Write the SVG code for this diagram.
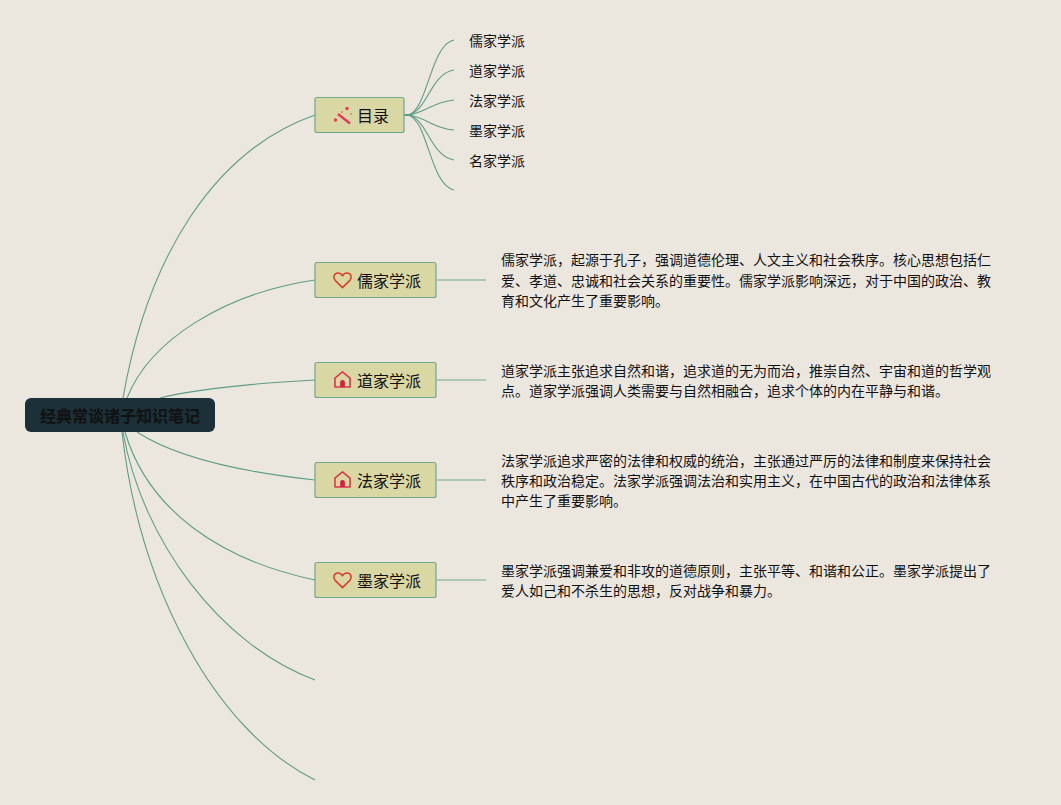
<svg xmlns="http://www.w3.org/2000/svg" width="1061" height="805" viewBox="0 0 1061 805">
<defs>
<symbol id="heart" viewBox="0 0 20 18" overflow="visible"><path d="M10 16.5 L2.2 8.8 C-0.6 5.6 1.2 1 5.2 1 C7.4 1 9 2.2 10 4 C11 2.2 12.6 1 14.8 1 C18.8 1 20.6 5.6 17.8 8.8 Z" fill="none" stroke="#d8402f" stroke-width="1.7" stroke-linejoin="round"/></symbol>
<symbol id="house" viewBox="0 0 18 18" overflow="visible"><path d="M1 7.5 L9 1 L17 7.5 V17 H1 Z" fill="none" stroke="#d9374f" stroke-width="1.7" stroke-linejoin="round"/><path d="M6.5 17 V12 Q6.5 9.6 9 9.6 Q11.5 9.6 11.5 12 V17 Z" fill="#d6213f"/></symbol>
</defs>
<style>
text{font-family:"Noto Sans CJK SC","Noto Sans",sans-serif;fill:#111}
.c{fill:none;stroke:#5f9c85;stroke-width:1.1}
.t{fill:none;stroke:#98bfa9;stroke-width:1.5}
.b{fill:#d9d7a4;stroke:#6ea88c;stroke-width:1.2}
.n{font-size:16px}
.s{font-size:14px}
.d{font-size:14px}
</style>
<rect width="1061" height="805" fill="#ebe7df"/>
<g id="connectors">
<path class="c" d="M123 398 C148 255 215 150 315 115"/>
<path class="c" d="M127 398 C150 340 225 293 315 280"/>
<path class="c" d="M160 398 C200 388 260 383 315 380"/>
<path class="c" d="M137 432 C180 460 250 473 315 480"/>
<path class="c" d="M125 432 C148 510 220 560 315 580"/>
<path class="c" d="M123 432 C142 540 220 645 315 680"/>
<path class="c" d="M122 432 C140 590 215 730 315 780"/>
<path class="c" d="M408 115 C428 110 430 45 454 40"/>
<path class="c" d="M408 115 C428 111 430 74 454 70"/>
<path class="c" d="M408 115 C426 113 432 102 454 100"/>
<path class="c" d="M408 115 C426 117 432 128 454 130"/>
<path class="c" d="M408 115 C428 119 430 156 454 160"/>
<path class="c" d="M408 115 C428 120 430 185 454 190"/>
<path fill="none" stroke="#5f9c85" stroke-width="2" d="M404 115 H412"/>
<path class="t" d="M437 280 H486"/>
<path class="t" d="M437 380 H486"/>
<path class="t" d="M437 480 H486"/>
<path class="t" d="M437 580 H486"/>
</g>
<g id="root">
<rect x="25" y="398" width="190" height="34" rx="6" fill="#1c3039"/>
<text x="120" y="422" font-size="16" font-weight="700" text-anchor="middle">经典常谈诸子知识笔记</text>
</g>
<g id="node-mulu">
<rect class="b" x="315" y="97.500" width="89" height="35" rx="2"/>
<g fill="#e63a5a">
<path d="M338 114 L350 123.500" stroke="#e63a5a" stroke-width="2.400" fill="none"/>
<circle cx="347" cy="108.500" r="1.700"/><circle cx="335.500" cy="120" r="1.700"/><circle cx="351" cy="114" r="0.800"/><circle cx="342" cy="112" r="0.800"/>
</g>
<text class="n" x="357" y="122">目录</text>
</g>
<g id="node-rujia">
<rect class="b" x="315" y="262.500" width="121" height="35" rx="2"/>
<use href="#heart" x="333" y="272" width="19" height="17"/>
<text class="n" x="357" y="287">儒家学派</text>
</g>
<g id="node-daojia">
<rect class="b" x="315" y="362.500" width="121" height="35" rx="2"/>
<use href="#house" x="334" y="371" width="17" height="17"/>
<text class="n" x="357" y="387">道家学派</text>
</g>
<g id="node-fajia">
<rect class="b" x="315" y="462.500" width="121" height="35" rx="2"/>
<use href="#house" x="334" y="471" width="17" height="17"/>
<text class="n" x="357" y="487">法家学派</text>
</g>
<g id="node-mojia">
<rect class="b" x="315" y="562.500" width="121" height="35" rx="2"/>
<use href="#heart" x="333" y="572" width="19" height="17"/>
<text class="n" x="357" y="587">墨家学派</text>
</g>
<g id="toc">
<text class="s" x="469" y="46">儒家学派</text>
<text class="s" x="469" y="76">道家学派</text>
<text class="s" x="469" y="106">法家学派</text>
<text class="s" x="469" y="136">墨家学派</text>
<text class="s" x="469" y="166">名家学派</text>
</g>
<g id="desc-rujia">
<text class="d" x="501" y="265">儒家学派，起源于孔子，强调道德伦理、人文主义和社会秩序。核心思想包括仁</text>
<text class="d" x="501" y="286">爱、孝道、忠诚和社会关系的重要性。儒家学派影响深远，对于中国的政治、教</text>
<text class="d" x="501" y="306">育和文化产生了重要影响。</text>
</g>
<g id="desc-daojia">
<text class="d" x="501" y="376">道家学派主张追求自然和谐，追求道的无为而治，推崇自然、宇宙和道的哲学观</text>
<text class="d" x="501" y="396">点。道家学派强调人类需要与自然相融合，追求个体的内在平静与和谐。</text>
</g>
<g id="desc-fajia">
<text class="d" x="501" y="466">法家学派追求严密的法律和权威的统治，主张通过严厉的法律和制度来保持社会</text>
<text class="d" x="501" y="486">秩序和政治稳定。法家学派强调法治和实用主义，在中国古代的政治和法律体系</text>
<text class="d" x="501" y="506">中产生了重要影响。</text>
</g>
<g id="desc-mojia">
<text class="d" x="501" y="576">墨家学派强调兼爱和非攻的道德原则，主张平等、和谐和公正。墨家学派提出了</text>
<text class="d" x="501" y="596">爱人如己和不杀生的思想，反对战争和暴力。</text>
</g>
</svg>
